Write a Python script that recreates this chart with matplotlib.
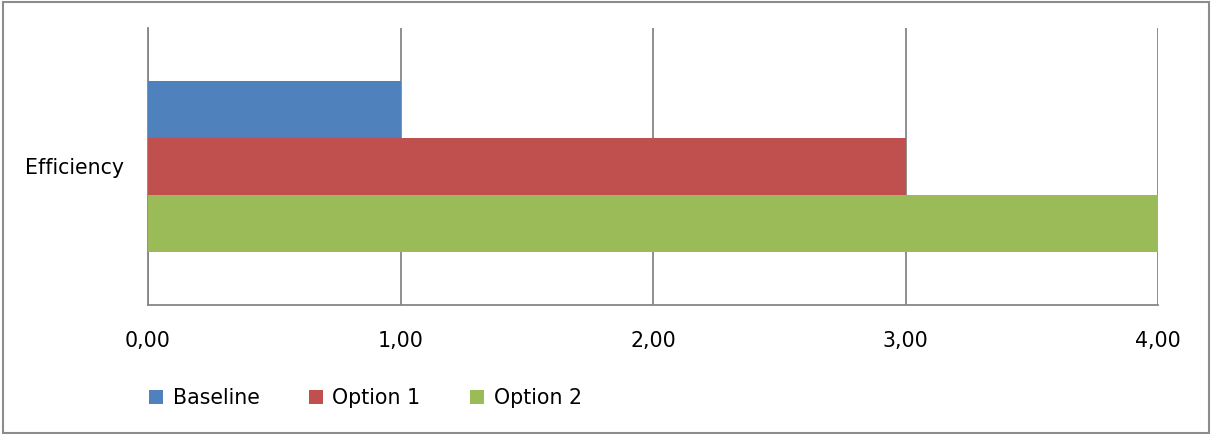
import matplotlib
matplotlib.use("Agg")
import matplotlib.pyplot as plt
from matplotlib.patches import Rectangle, Patch

plt.rcParams["font.family"] = ["DejaVu Sans"]

# data
category = "Efficiency"
series = ["Baseline", "Option 1", "Option 2"]
values = [1.0, 3.0, 4.0]
colors = ["#4F81BD", "#C0504D", "#9BBB59"]
xticks = [0, 1, 2, 3, 4]
xtick_labels = ["0,00", "1,00", "2,00", "3,00", "4,00"]

W, H = 1212, 434
FS = 14.8
fig = plt.figure(figsize=(W / 100, H / 100), dpi=100)
fig.patch.set_facecolor("white")
ax = fig.add_axes([148 / W, 1 - 305 / H, (1158 - 148) / W, (305 - 28) / H])

GRID = "#868686"
bar_h = 0.205
offsets = [bar_h, 0.0, -bar_h]
for name, v, c, off in zip(series, values, colors, offsets):
    ax.barh(off, v, height=bar_h, color=c, edgecolor="none", zorder=3, label=name)

ax.set_xlim(0, 4)
ax.set_ylim(-0.5, 0.5)
ax.set_xticks(xticks)
ax.set_xticklabels(xtick_labels)
ax.set_yticks([0])
ax.set_yticklabels([category])
ax.tick_params(axis="both", length=0, labelsize=FS, colors="black")
ax.tick_params(axis="x", pad=19)
ax.tick_params(axis="y", pad=17)
ax.xaxis.grid(True, color=GRID, lw=1.3, zorder=1)
for s in ["top", "right"]:
    ax.spines[s].set_visible(False)
for s in ["left", "bottom"]:
    ax.spines[s].set_color(GRID)
    ax.spines[s].set_linewidth(1.3)

handles = [Patch(facecolor=c, edgecolor="none", label=n) for n, c in zip(series, colors)]
fig.legend(handles=handles, loc="center left", bbox_to_anchor=(149 / W, 1 - 398 / H),
           ncol=3, frameon=False, fontsize=FS, handlelength=0.7, handleheight=0.7,
           handletextpad=0.45, columnspacing=2.4, borderpad=0, borderaxespad=0)

# outer chart border
fig.add_artist(Rectangle((3 / W, 1.5 / H), 1206 / W, 431 / H, transform=fig.transFigure,
                         fill=False, edgecolor="#8C8C8C", lw=1.5))

fig.savefig("out.png", dpi=100, facecolor="white")
